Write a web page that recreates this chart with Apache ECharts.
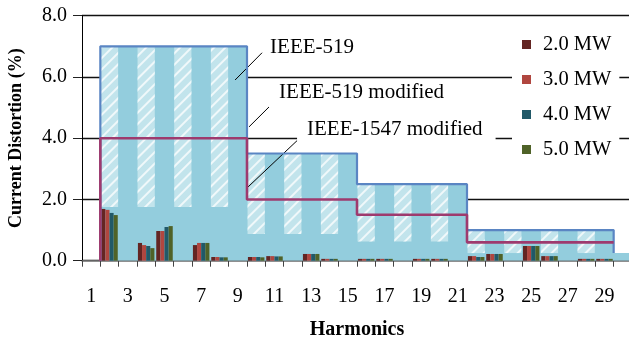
<!DOCTYPE html>
<html><head><meta charset="utf-8">
<script src="https://cdn.jsdelivr.net/npm/echarts@6/dist/echarts.min.js"></script>
<style>html,body{margin:0;padding:0;background:#fff}#c{width:629px;height:339px}</style>
</head><body><div id="c"></div>
<script>
// ---- data ----
const categories = ['1','2','3','4','5','6','7','8','9','10','11','12','13','14','15','16','17','18','19','20','21','22','23','24','25','26','27','28','29','30'];
const seriesNames = ['2.0 MW','3.0 MW','4.0 MW','5.0 MW'];
const mw20 = [null,1.69,null,0.58,0.97,null,0.51,0.12,null,0.12,0.15,null,0.22,0.06,null,0.06,0.06,null,0.06,0.06,null,0.15,0.22,null,0.48,0.15,null,0.06,0.06,null];
const mw30 = [null,1.66,null,0.51,0.97,null,0.58,0.12,null,0.12,0.15,null,0.22,0.06,null,0.06,0.06,null,0.06,0.06,null,0.15,0.22,null,0.48,0.15,null,0.06,0.06,null];
const mw40 = [null,1.56,null,0.48,1.10,null,0.58,0.11,null,0.12,0.14,null,0.22,0.06,null,0.06,0.06,null,0.06,0.06,null,0.12,0.22,null,0.48,0.15,null,0.06,0.06,null];
const mw50 = [null,1.49,null,0.41,1.13,null,0.58,0.11,null,0.11,0.14,null,0.22,0.06,null,0.06,0.06,null,0.06,0.06,null,0.12,0.22,null,0.48,0.15,null,0.06,0.06,null];
// even-harmonic (modified) hatched band: bottom and top per category
const hatchBottom = [null,1.75,null,1.75,null,1.75,null,1.75,null,0.875,null,0.875,null,0.875,null,0.625,null,0.625,null,0.625,null,0.25,null,0.25,null,0.25,null,0.25,null,null];
const hatchTop    = [null,7.0,null,7.0,null,7.0,null,7.0,null,3.5,null,3.5,null,3.5,null,2.5,null,2.5,null,2.5,null,1.0,null,1.0,null,1.0,null,1.0,null,null];
// stepped limits (edges on category boundaries)
const limitEdges = [1, 9, 15, 21, 29, 30];
const ieee519 = [7.0, 3.5, 2.5, 1.0, 0.25];
const ieee1547mod = [4.0, 2.0, 1.5, 0.6];
const yTicks = [0, 2, 4, 6, 8];
const colors = ['#632523','#b0463f','#215968','#4f6228'];

// ---- build ----
const FONT = 'Liberation Serif';
function stepPts(vals, edges) {
  const pts = [];
  for (let k = 0; k < vals.length; k++) { pts.push([edges[k], vals[k]]); pts.push([edges[k+1], vals[k]]); }
  return pts;
}
const areaPts = stepPts(ieee519, limitEdges);
const bluePts = [[limitEdges[0], 0]].concat(stepPts(ieee519.slice(0,4), limitEdges)).concat([[limitEdges[4], ieee519[4]]]);
const pinkPts = [[limitEdges[0], 0]].concat(stepPts(ieee1547mod, limitEdges));
const hatchDiff = hatchTop.map((t,i) => t == null ? null : +(t - hatchBottom[i]).toFixed(3));
const mwData = [mw20, mw30, mw40, mw50];

const chart = echarts.init(document.getElementById('c'), null, {renderer:'canvas'});
const barSeries = mwData.map((d,i) => ({
  name: seriesNames[i], type:'bar', xAxisIndex:0, yAxisIndex:0, data:d,
  barGap:'0%', barCategoryGap:'10%', z:4,
  itemStyle:{color:colors[i]}
}));

chart.setOption({
  animation:false,
  textStyle:{fontFamily:FONT},
  grid:{left:82, right:-3, top:15.7, bottom:78.3, outerBoundsMode:'none', containLabel:false},
  legend:{
    data:seriesNames, orient:'vertical', left:512, top:26,
    backgroundColor:'#fff', padding:[8,8,8,10], itemGap:14,
    icon:'rect', itemWidth:9, itemHeight:9,
    textStyle:{fontFamily:FONT, fontSize:20.5, color:'#000', padding:[0,0,0,7]}
  },
  xAxis:[
    {type:'category', data:categories, boundaryGap:true,
     axisLine:{lineStyle:{color:'#7f7f7f', width:1.5}},
     axisTick:{show:true, interval:0, length:6, lineStyle:{color:'#444'}},
     axisLabel:{interval:1, margin:26, fontSize:20, fontFamily:FONT, color:'#000'},
     name:'Harmonics', nameLocation:'middle', nameGap:59,
     nameTextStyle:{fontFamily:FONT, fontSize:20, fontWeight:'bold', color:'#000'}},
    {type:'category', data:categories, show:false},
    {type:'value', min:0, max:30, show:false}
  ],
  yAxis:{type:'value', min:yTicks[0], max:yTicks[yTicks.length-1], interval:2,
    axisLine:{show:true, lineStyle:{color:'#000', width:1}},
    axisTick:{show:true, length:9, lineStyle:{color:'#222'}},
    axisLabel:{margin:15, fontSize:20, fontFamily:FONT, color:'#000', formatter:v=>v.toFixed(1)},
    splitLine:{show:true, lineStyle:{color:'#111', width:1.3}},
    name:'Current Distortion (%)', nameLocation:'middle', nameGap:57,
    nameTextStyle:{fontFamily:FONT, fontSize:18, fontWeight:'bold', color:'#000'}
  },
  series:[
    {name:'area519', type:'line', xAxisIndex:2, yAxisIndex:0, data:areaPts, showSymbol:false, z:1,
     lineStyle:{width:0}, areaStyle:{color:'#93cddd', opacity:1}, silent:true},
    {name:'hatchBase', type:'bar', xAxisIndex:1, yAxisIndex:0, data:hatchBottom, stack:'h',
     barCategoryGap:'6%', itemStyle:{color:'rgba(0,0,0,0)'}, z:2, silent:true},
    {name:'hatch', type:'bar', xAxisIndex:1, yAxisIndex:0, data:hatchDiff, stack:'h',
     barCategoryGap:'6%', z:2, silent:true,
     itemStyle:{color:'#c2e4ec', decal:{symbol:'rect', symbolSize:1, dashArrayX:[1,0], dashArrayY:[1.5,5.5], rotation:-Math.PI/4, color:'rgba(255,255,255,0.75)'}}},
    ...barSeries,
    {name:'IEEE-519', type:'line', xAxisIndex:2, yAxisIndex:0, data:bluePts, showSymbol:false, z:5,
     lineStyle:{color:'#5a85c3', width:2.2}, silent:true},
    {name:'IEEE-1547 modified', type:'line', xAxisIndex:2, yAxisIndex:0, data:pinkPts, showSymbol:false, z:6,
     lineStyle:{color:'#9e3a6e', width:2.6}, silent:true,
     markLine:{silent:true, symbol:['none','arrow'], symbolSize:[0,9],
       lineStyle:{color:'#000', width:1, type:'solid'}, label:{show:false},
       data:[
         [{coord:[9.82,6.79]},{coord:[8.35,5.9]}],
         [{coord:[10.2,5.02]},{coord:[9.11,4.37]}],
         [{coord:[11.89,4.01]},{coord:[9.06,2.41]}]
       ]},
     markPoint:{silent:true, symbol:'circle', symbolSize:0, itemStyle:{color:'rgba(0,0,0,0)'},
       label:{show:true, position:'right', distance:0, color:'#000', fontSize:21, fontFamily:FONT, formatter:p=>p.name},
       data:[
         {name:'IEEE-519', coord:[10.26,6.95]},
         {name:'IEEE-519 modified', coord:[10.75,5.48]},
         {name:'IEEE-1547 modified', coord:[11.73,4.27], label:{backgroundColor:'#fff', padding:[5,13,5,10]}}
       ]}
    }
  ]
});
</script></body></html>
